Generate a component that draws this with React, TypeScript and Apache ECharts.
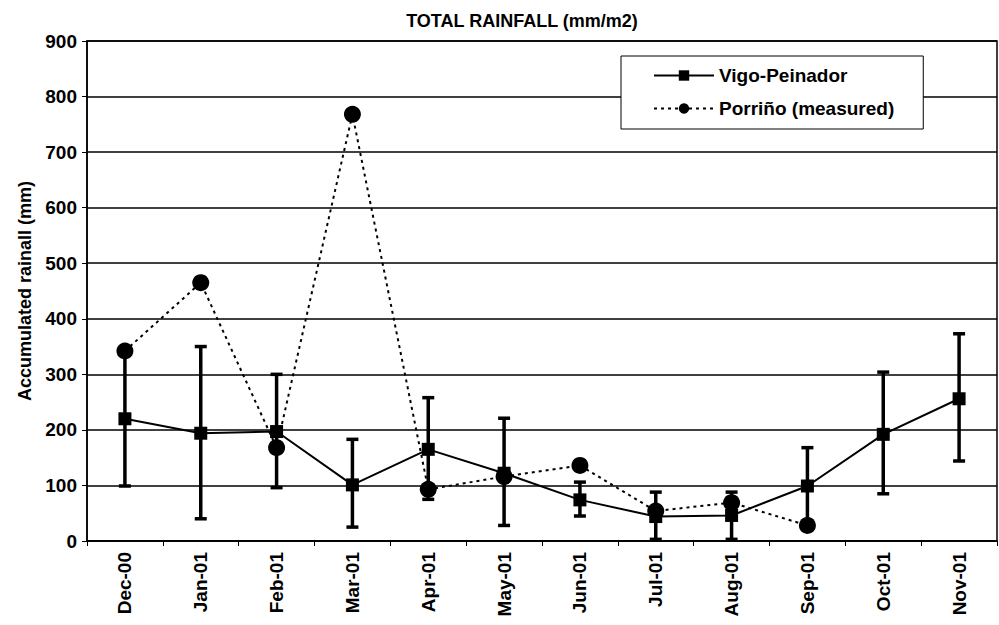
import React, { useEffect, useRef } from "react";
import * as echarts from "echarts";

const months = ["Dec-00", "Jan-01", "Feb-01", "Mar-01", "Apr-01", "May-01", "Jun-01", "Jul-01", "Aug-01", "Sep-01", "Oct-01", "Nov-01"];
const vigo = [220, 194, 197, 101, 165, 122, 74, 44, 46, 99, 192, 256];
const vigoLow = [99, 40, 96, 25, 75, 28, 45, 3, 3, 29, 85, 144];
const vigoHigh = [341, 350, 300, 183, 258, 221, 106, 88, 88, 168, 304, 373];
const porrino: (number | null)[] = [342, 465, 168, 768, 93, 116, 136, 54, 69, 28, null, null];
const yTicks = { min: 0, max: 900, interval: 100 };

const FONT = "Liberation Sans, Arial, sans-serif";

export default function App() {
  const ref = useRef<HTMLDivElement>(null);
  useEffect(() => {
    if (!ref.current) return;
    const chart = echarts.init(ref.current, undefined, { renderer: "svg" });
    const errData = months.map((_, i) => [i, vigoLow[i], vigoHigh[i]]);
    chart.setOption({
      animation: false,
      backgroundColor: "#fff",
      title: {
        text: "TOTAL RAINFALL (mm/m2)",
        left: 517,
        textAlign: "center",
        top: 7,
        textStyle: { fontFamily: FONT, fontWeight: "bold", fontSize: 18, color: "#000" },
      },
      legend: {
        data: ["Vigo-Peinador", "Porriño (measured)"],
        orient: "vertical",
        left: 621,
        top: 56,
        padding: [10, 29, 11, 32],
        itemGap: 14,
        itemWidth: 60,
        itemHeight: 13,
        backgroundColor: "#fff",
        borderColor: "#000",
        borderWidth: 1,
        textStyle: { fontFamily: FONT, fontWeight: "bold", fontSize: 19, color: "#000" },
        z: 10,
      },
      grid: {
        left: 87,
        right: 2,
        top: 41,
        bottom: 84,
        show: true,
        borderColor: "#000",
        borderWidth: 1.5,
      },
      xAxis: {
        type: "category",
        data: months,
        boundaryGap: true,
        axisLine: { lineStyle: { color: "#000", width: 1.5 } },
        axisTick: { show: true, length: 5, lineStyle: { color: "#000", width: 1 } },
        axisLabel: {
          rotate: 90,
          margin: 11,
          fontFamily: FONT,
          fontWeight: "bold",
          fontSize: 19,
          color: "#000",
        },
      },
      yAxis: {
        type: "value",
        min: yTicks.min,
        max: yTicks.max,
        interval: yTicks.interval,
        name: "Accumulated rainall (mm)",
        nameLocation: "middle",
        nameRotate: 90,
        nameGap: 53,
        nameTextStyle: { fontFamily: FONT, fontWeight: "bold", fontSize: 18, color: "#000" },
        axisLine: { show: true, lineStyle: { color: "#000", width: 1.5 } },
        axisTick: { show: true, length: 5, lineStyle: { color: "#000", width: 1 } },
        splitLine: { show: true, lineStyle: { color: "#000", width: 1.5 } },
        axisLabel: {
          margin: 10,
          fontFamily: FONT,
          fontWeight: "bold",
          fontSize: 19,
          color: "#000",
        },
      },
      series: [
        {
          name: "errors",
          type: "custom",
          z: 1,
          data: errData,
          renderItem: (params: any, api: any) => {
            const i = api.value(0);
            const lo = api.coord([i, api.value(1)]);
            const hi = api.coord([i, api.value(2)]);
            const cap = 6;
            const style = { stroke: "#000", lineWidth: 3.5 };
            return {
              type: "group",
              children: [
                { type: "line", shape: { x1: lo[0], y1: lo[1], x2: hi[0], y2: hi[1] }, style },
                { type: "line", shape: { x1: lo[0] - cap, y1: lo[1], x2: lo[0] + cap, y2: lo[1] }, style },
                { type: "line", shape: { x1: hi[0] - cap, y1: hi[1], x2: hi[0] + cap, y2: hi[1] }, style },
              ],
            };
          },
        },
        {
          name: "Vigo-Peinador",
          type: "line",
          z: 3,
          data: vigo,
          symbol: "rect",
          symbolSize: 13,
          itemStyle: { color: "#000" },
          lineStyle: { color: "#000", width: 2, type: "solid" },
        },
        {
          name: "Porriño (measured)",
          type: "line",
          z: 4,
          data: porrino,
          symbol: "circle",
          symbolSize: 17,
          itemStyle: { color: "#000" },
          lineStyle: { color: "#000", width: 2, type: [3, 4] },
        },
      ],
    });
    return () => chart.dispose();
  }, []);
  return <div ref={ref} style={{ position: "fixed", left: 0, top: 0, width: 999, height: 625 }} />;
}
